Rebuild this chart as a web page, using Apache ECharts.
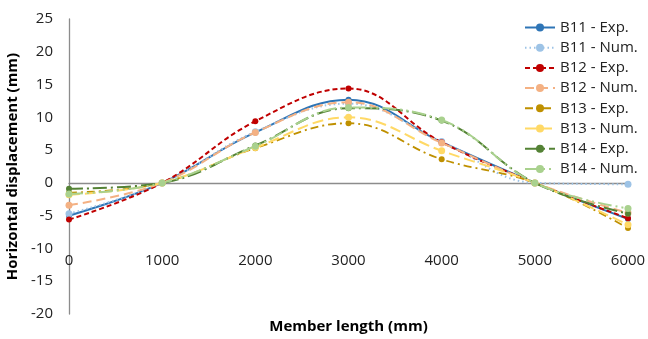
<!DOCTYPE html>
<html>
<head>
<meta charset="utf-8">
<script src="https://cdn.jsdelivr.net/npm/echarts@6/dist/echarts.min.js"></script>
<style>
  html, body { margin: 0; padding: 0; background: #fff; }
  #chart { width: 648px; height: 339px; }
</style>
</head>
<body>
<div id="chart"></div>
<script>
// 构件长度 (mm)
const lengths = [0, 1000, 2000, 3000, 4000, 5000, 6000];

// 水平位移 (mm)
const b11Exp = [-5.0, 0, 7.7, 12.7, 6.2, 0, -5.5];
const b11Num = [-4.7, 0, 7.8, 12.1, 6.3, 0, -0.2];
const b12Exp = [-5.6, 0, 9.4, 14.4, 6.2, 0, -5.4];
const b12Num = [-3.4, 0, 7.7, 12.3, 6.1, 0, -4.6];
const b13Exp = [-1.5, 0, 5.3, 9.1, 3.6, 0, -6.9];
const b13Num = [-1.8, 0, 5.4, 10.0, 4.9, 0, -6.4];
const b14Exp = [-0.9, 0, 5.7, 11.4, 9.5, 0, -4.7];
const b14Num = [-1.7, 0, 5.6, 11.5, 9.6, 0, -3.9];

const yTicks = [-20, -15, -10, -5, 0, 5, 10, 15, 20, 25];

const font = 'Open Sans, Liberation Sans, sans-serif';

// 网格位置：零线在 y = 183 处
const gridTop = 19, gridBottom = 25, chartH = 339;
const plotH = chartH - gridTop - gridBottom;
const zeroOffset = plotH * (0 - yTicks[0]) / (yTicks[yTicks.length - 1] - yTicks[0]);

// 每条线的样式
function line(name, values, color, dash, width, symSize) {
  return {
    name: name,
    type: 'line',
    smooth: 0.4,
    data: lengths.map((x, i) => [x, values[i]]),
    symbol: 'circle',
    symbolSize: symSize,
    itemStyle: { color: color },
    lineStyle: { color: color, width: width, type: dash },
    emphasis: { disabled: true }
  };
}

let myChart = echarts.init(document.getElementById('chart'));
var option = {
  animation: false,
  textStyle: { fontFamily: font },
  grid: { left: 69, right: 20, top: gridTop, bottom: gridBottom, containLabel: false, outerBoundsMode: 'none' },
  legend: {
    orient: 'vertical',
    left: 519,
    top: 15,
    itemWidth: 30,
    itemHeight: 10,
    itemGap: 5.2,
    textStyle: { fontSize: 15, color: '#222', fontFamily: font }
  },
  xAxis: {
    type: 'value',
    min: 0,
    max: 6000,
    interval: 1000,
    position: 'bottom',
    offset: -zeroOffset,
    name: 'Member length (mm)',
    nameLocation: 'middle',
    nameGap: 136,
    nameMoveOverlap: false,
    nameTextStyle: { fontSize: 15, fontWeight: 'bold', color: '#000' },
    axisLine: { onZero: false, lineStyle: { color: '#8c8c8c', width: 1.3 } },
    axisTick: { show: false },
    axisLabel: { fontSize: 15, color: '#222', margin: 70, formatter: v => String(v) },
    splitLine: { show: false }
  },
  yAxis: {
    type: 'value',
    min: yTicks[0],
    max: yTicks[yTicks.length - 1],
    interval: 5,
    name: 'Horizontal displacement (mm)',
    nameLocation: 'middle',
    nameGap: 43,
    nameTextStyle: { fontSize: 15, fontWeight: 'bold', color: '#000' },
    axisLine: { show: true, onZero: false, lineStyle: { color: '#8c8c8c', width: 1.3 } },
    axisTick: { show: false },
    axisLabel: { fontSize: 15, color: '#222', margin: 16 },
    splitLine: { show: false }
  },
  series: [
    line('B11 - Exp.', b11Exp, '#2E75B6', 'solid', 2, 6),
    line('B11 - Num.', b11Num, '#9DC3E6', [1.5, 3], 2, 7),
    line('B12 - Exp.', b12Exp, '#C00000', [5, 3], 2, 6),
    line('B12 - Num.', b12Num, '#F4B183', [9, 5], 2, 7),
    line('B13 - Exp.', b13Exp, '#BF9000', [8, 4, 2, 4], 1.8, 6),
    line('B13 - Num.', b13Num, '#FFD966', [11, 5], 2, 7),
    line('B14 - Exp.', b14Exp, '#548235', [14, 4, 2, 4], 2, 6),
    line('B14 - Num.', b14Num, '#A9D18E', [14, 4, 2, 4, 2, 4], 2, 7)
  ]
};
myChart.setOption(option);
</script>
</body>
</html>
